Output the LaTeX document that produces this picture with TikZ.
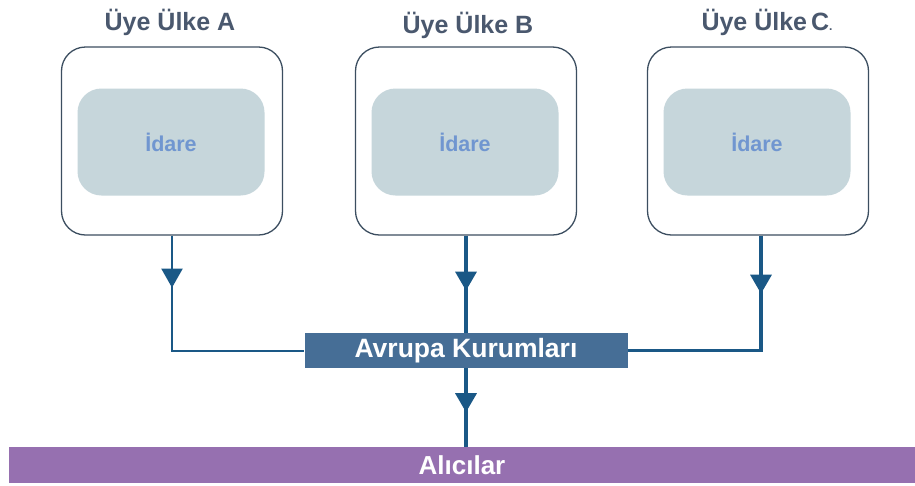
\documentclass[tikz,border=0pt]{standalone}
\usepackage{fontspec}
\setmainfont{Liberation Sans}
\usetikzlibrary{arrows.meta,decorations.markings}
\definecolor{framec}{RGB}{60,78,96}
\definecolor{innerc}{RGB}{198,214,219}
\definecolor{idarec}{RGB}{112,150,208}
\definecolor{titlec}{RGB}{74,88,110}
\definecolor{linkc}{RGB}{26,88,134}
\definecolor{agencyc}{RGB}{70,110,150}
\definecolor{recvc}{RGB}{150,112,176}
\tikzset{
  country/.style={draw=framec, line width=1.3pt, fill=white, rounded corners=24pt,
    minimum width=221pt, minimum height=188pt, inner sep=0pt},
  office/.style={fill=innerc, rounded corners=24pt, minimum width=187pt,
    minimum height=107pt, inner sep=0pt, text=idarec, font=\bfseries\fontsize{21.5}{24}\selectfont},
  ctitle/.style={text=titlec, font=\bfseries\fontsize{25}{28}\selectfont, inner sep=0pt},
  link/.style={draw=linkc, line width=3.4pt},
  thinlink/.style={draw=linkc, line width=2pt},
  arrowat/.style={postaction={decorate}, decoration={markings,
    mark=at position #1 with {\arrow[linkc]{Triangle[width=21pt,length=19pt]}}}},
}
\begin{document}
\begin{tikzpicture}[x=1pt,y=-1pt, every node/.style={anchor=center}]
  \useasboundingbox[fill=white] (0,0) rectangle (915,485);

  % member-state frames
  \node[country] (boxA) at (172,141) {};
  \node[country] (boxB) at (466,141) {};
  \node[country] (boxC) at (758,141) {};

  % administrations
  \node[office] (idA) at (171,142) {İdare};
  \node[office] (idB) at (465,142) {İdare};
  \node[office] (idC) at (757,142) {İdare};

  % titles
  \node[ctitle] (tA) at (170,22) {Üye Ülke A};
  \node[ctitle] (tB) at (468,25) {Üye Ülke B};
  \node[ctitle] (tC) at (767,22) {Üye Ülke\kern4pt C{\fontsize{12}{12}\selectfont.}};

  % European institutions
  \node[fill=agencyc, minimum width=323pt, minimum height=35pt, inner sep=0pt,
        text=white, font=\bfseries\fontsize{26.5}{28}\selectfont] (eu) at (466,350.5) {Avrupa Kurumları};

  % recipients
  \node[fill=recvc, minimum width=906pt, minimum height=36pt, inner sep=0pt,
        text=white, font=\bfseries\fontsize{26}{28}\selectfont] (rec) at (462,465)
        {\raisebox{-6pt}{Alıcılar}};

  % connectors
  \coordinate (aTop) at (boxA.south);
  \coordinate (cTop) at (boxC.south -| 761,0);
  \draw[thinlink, arrowat=52pt] (aTop) |- (eu.west);
  \draw[link, arrowat=55pt] (boxB.south -| eu.north) -- (eu.north);
  \draw[link, arrowat=58pt] (cTop) |- (eu.east);
  \draw[link, arrowat=44pt] (eu.south) -- (rec.north -| eu.south);
\end{tikzpicture}
\end{document}
